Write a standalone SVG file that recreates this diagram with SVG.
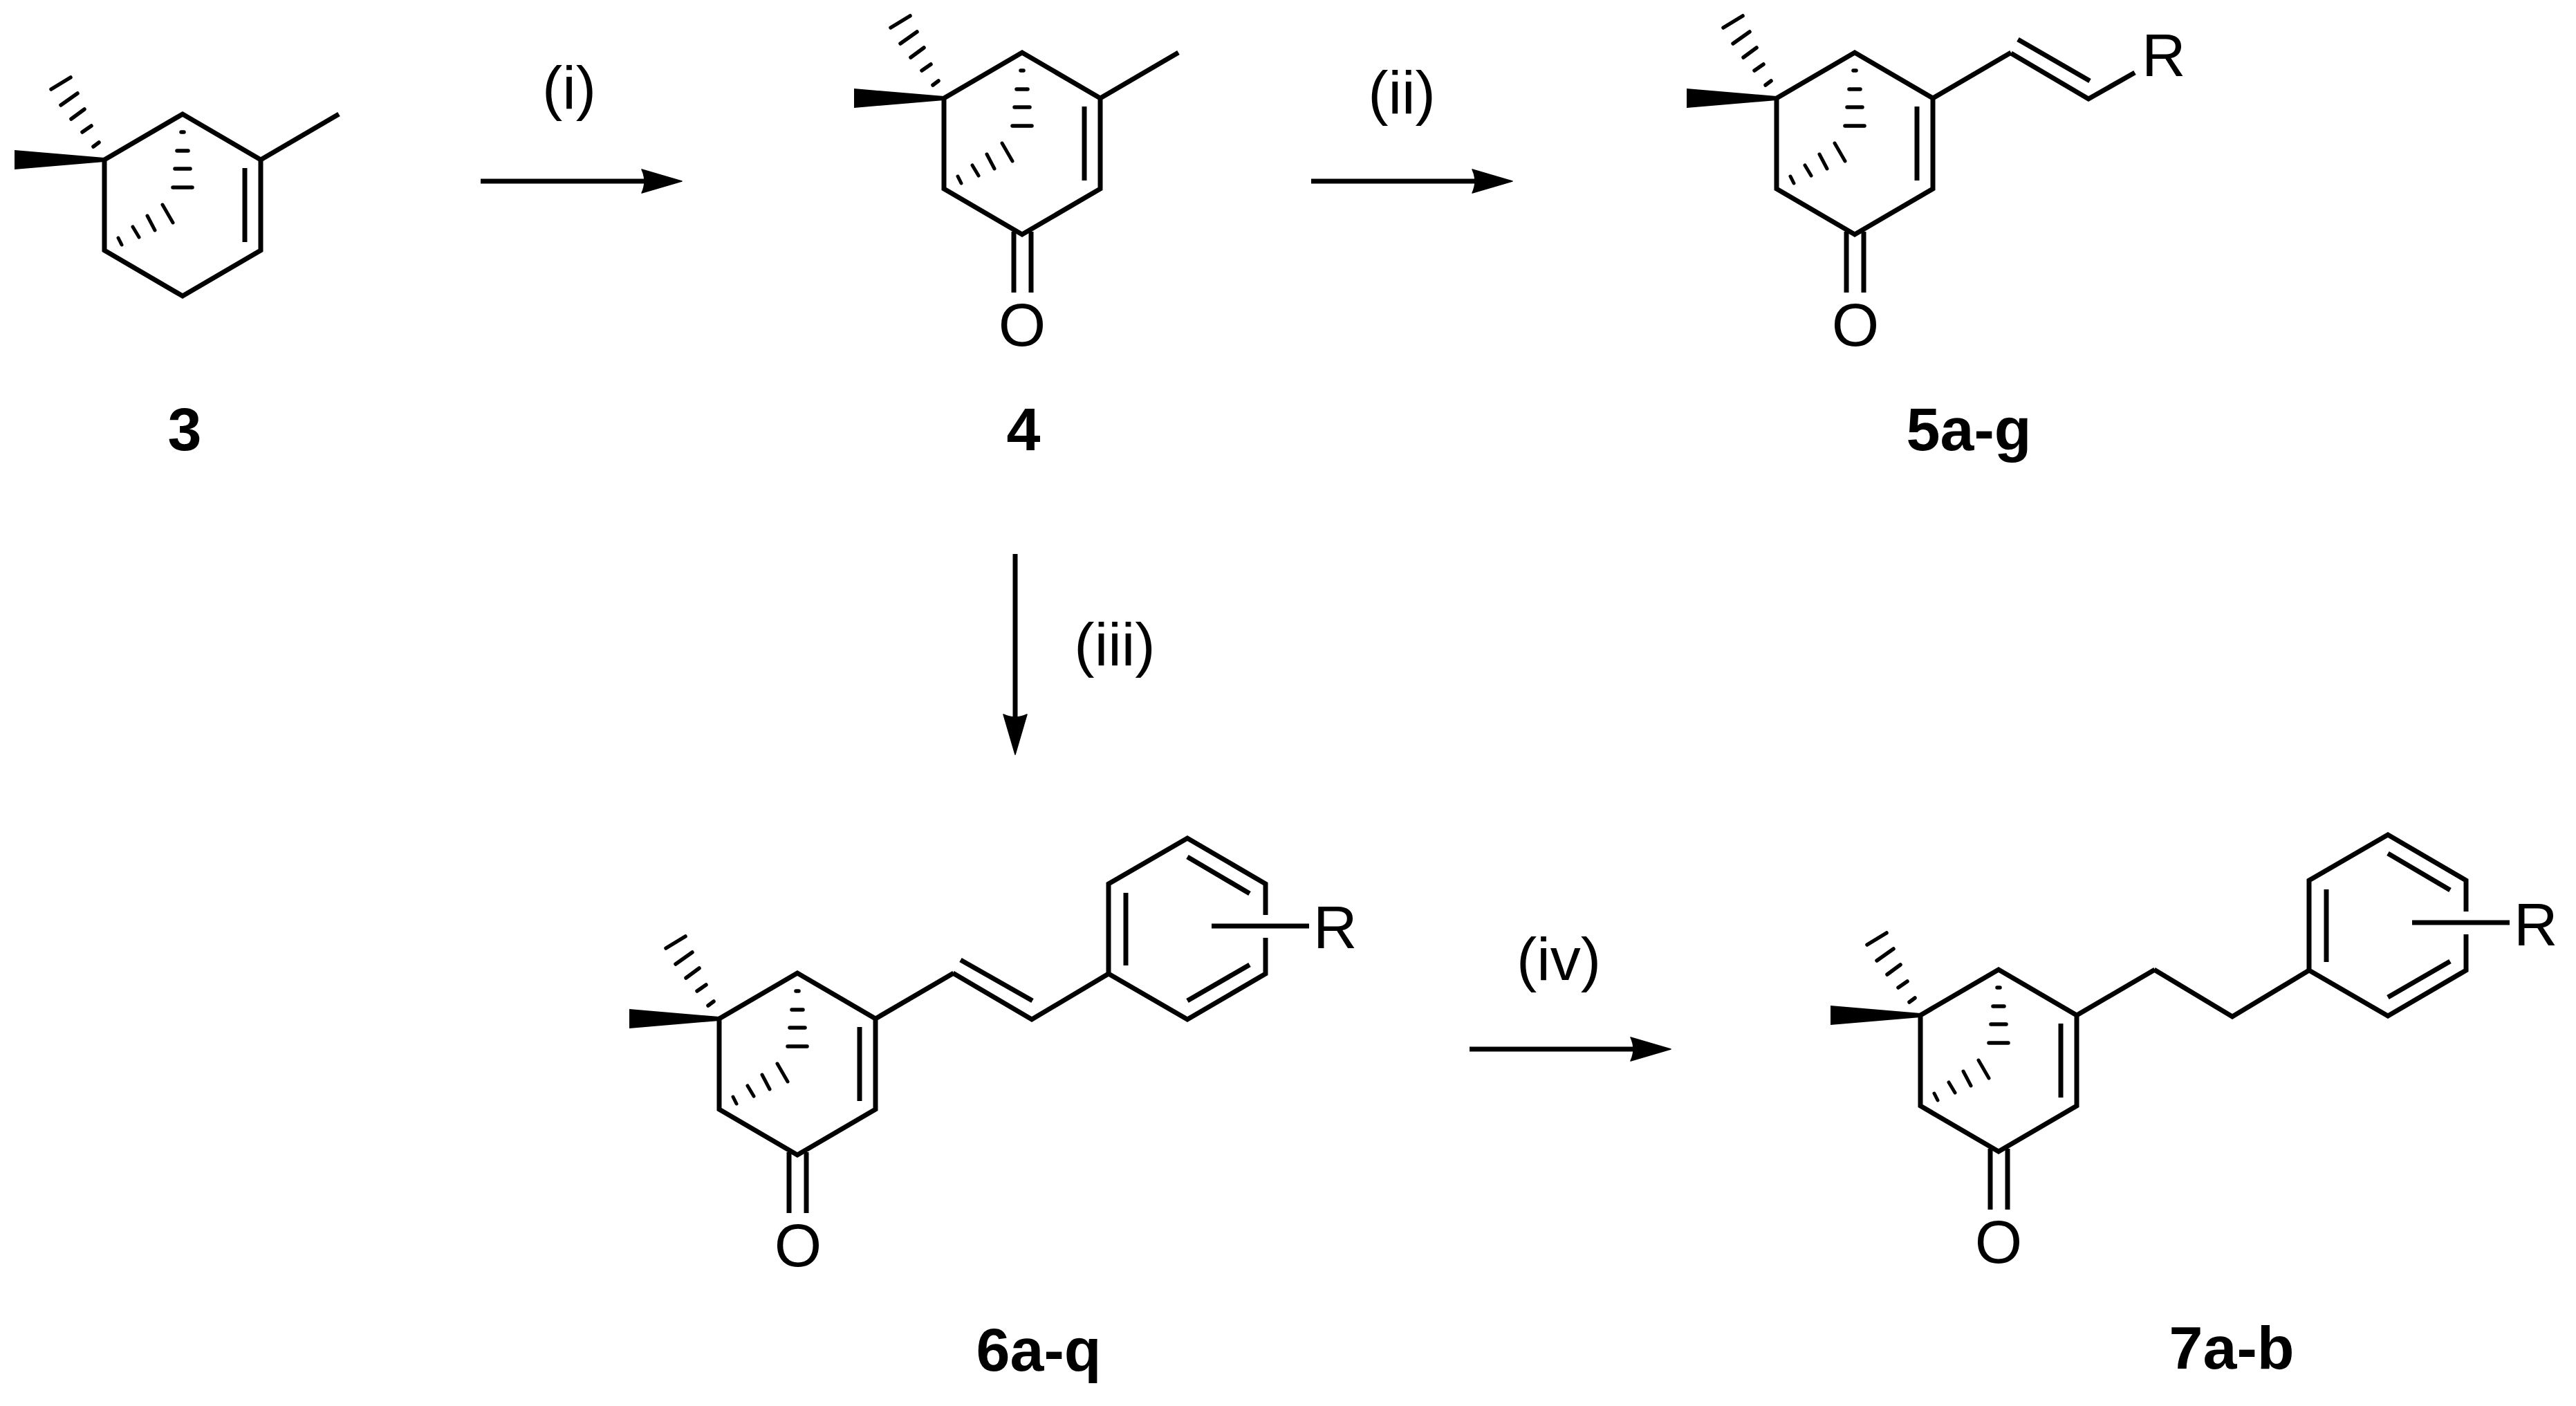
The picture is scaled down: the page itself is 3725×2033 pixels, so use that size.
<svg xmlns="http://www.w3.org/2000/svg" xmlns:xlink="http://www.w3.org/1999/xlink" width="3725" height="2033" viewBox="0 0 3725 2033">
<style>
text{font-family:"Liberation Sans",Arial,sans-serif;font-size:88px;fill:#000}
.name{font-weight:bold;text-anchor:middle}
.step{text-anchor:middle}
.bond{fill:none;stroke:#000;stroke-width:7;stroke-linejoin:miter;stroke-miterlimit:4}
.hash{fill:none;stroke:#000;stroke-width:5.5;stroke-linecap:round}
.hash-thin{fill:none;stroke:#000;stroke-width:5;stroke-linecap:round}
.arrow{fill:none;stroke:#000;stroke-width:7}
</style>
<defs>
<marker id="head" markerUnits="userSpaceOnUse" markerWidth="60" markerHeight="40" refX="6" refY="18" orient="auto" overflow="visible">
<path d="M0 1 L58 18 L0 35 Q8 18 0 1 Z" fill="#000" stroke="#000" stroke-width="1.5" stroke-linejoin="round"/>
</marker>
<g id="core">
<path class="bond" d="M151 231 L264 165 L377 231 L377 362 L264 428 L151 362 Z"/>
<path class="bond" d="M377 231 L490 165"/>
<path class="bond" d="M354 243 L354 350"/>
<polygon points="151,228 21,217 21,245 151,234" fill="#000"/>
<path class="hash" d="M74 129 L102 112 M88 152 L112 135 M103 172 L122 158 M119 191 L132 182 M135 212 L143 206"/>
<path class="hash" d="M262 191 L266 191 M256 218 L272 218 M253 244 L275 244 M250 271 L278 271"/>
<path class="hash-thin" d="M235 296 L250 322 M213 312 L224 333 M192 328 L201 343 M171 344 L176 354"/>
</g>
<g id="carbonyl">
<path class="bond" d="M252 424 L252 512 M277 424 L277 512"/>
</g>
<g id="aryl">
<path class="bond" d="M1603 1408 L1603 1278 L1717 1212 L1830 1278 L1830 1323 M1830 1356 L1830 1408 L1717 1474 L1603 1408"/>
<path class="bond" d="M1628 1291 L1628 1396 M1717 1239 L1807 1292 M1717 1447 L1807 1395"/>
<path class="bond" d="M1752 1339 L1893 1339"/>
</g>
</defs>
<g id="compound-3">
<use href="#core"/>
<text class="name" x="267" y="651">3</text>
</g>
<g id="compound-4">
<use href="#core" transform="translate(1214 -89)"/>
<use href="#carbonyl" transform="translate(1214 -89)"/>
<text class="step" x="1478" y="500">O</text>
<text class="name" x="1480" y="651">4</text>
</g>
<g id="compound-5">
<use href="#core" transform="translate(2418 -89)"/>
<use href="#carbonyl" transform="translate(2418 -89)"/>
<path class="bond" d="M2908 77 L3020 143 L3087 105 M2918 57 L3022 117"/>
<text class="step" x="2683" y="500">O</text>
<text x="3097" y="110">R</text>
<text class="name" x="2847" y="651">5a-g</text>
</g>
<g id="compound-6">
<use href="#core" transform="translate(889 1242)"/>
<use href="#carbonyl" transform="translate(889 1242)"/>
<path class="bond" d="M1378 1407 L1492 1474 L1603 1408 M1389 1388 L1493 1447"/>
<use href="#aryl"/>
<text class="step" x="1154" y="1831">O</text>
<text x="1899" y="1371">R</text>
<text class="name" x="1502" y="1982">6a-q</text>
</g>
<g id="compound-7">
<use href="#core" transform="translate(2626 1237)"/>
<use href="#carbonyl" transform="translate(2626 1237)"/>
<path class="bond" d="M3115 1402 L3228 1470 L3339 1403"/>
<use href="#aryl" transform="translate(1736 -5)"/>
<text class="step" x="2890" y="1826">O</text>
<text x="3635" y="1367">R</text>
<text class="name" x="3227" y="1979">7a-b</text>
</g>
<g id="connectors">
<path class="arrow" d="M695 262 L934 262" marker-end="url(#head)"/>
<path class="arrow" d="M1896 262 L2135 262" marker-end="url(#head)"/>
<path class="arrow" d="M1468 801 L1468 1039" marker-end="url(#head)"/>
<path class="arrow" d="M2125 1517 L2364 1517" marker-end="url(#head)"/>
</g>
<g id="step-labels">
<text class="step" x="823" y="157">(i)</text>
<text class="step" x="2027" y="164">(ii)</text>
<text class="step" x="1612" y="962">(iii)</text>
<text class="step" x="2254" y="1417">(iv)</text>
</g>
</svg>
